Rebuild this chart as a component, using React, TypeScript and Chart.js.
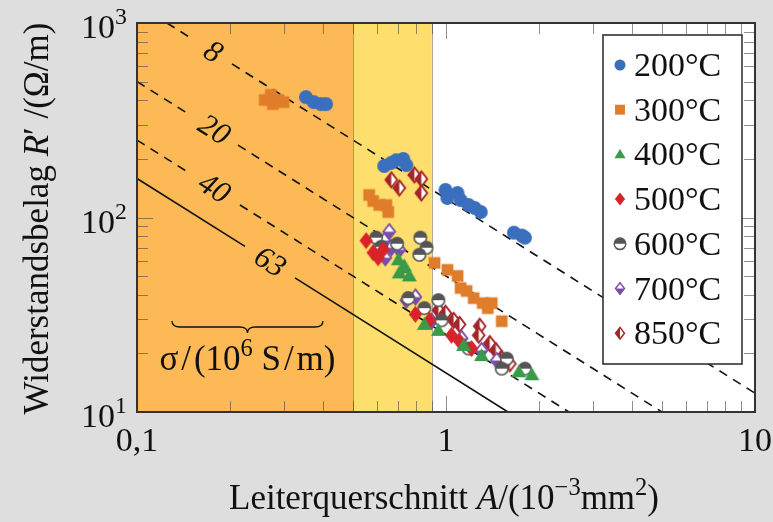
import React, { useEffect, useRef } from "react";
import { Chart, registerables } from "chart.js";

Chart.register(...registerables);

// ---------- data (A in 10^-3 mm^2, R' in Ohm/m) ----------
const A200 = [0.352, 0.373, 0.394, 0.409, 0.631, 0.665, 0.69, 0.727, 0.744, 0.996, 1.01, 1.089, 1.115, 1.183, 1.238, 1.295, 1.659, 1.761, 1.8];
const R200 = [416, 392, 383, 383, 184, 191, 197, 200, 186, 138.5, 126, 133.6, 123, 116, 112, 106.7, 83.6, 80.7, 78.8];

const A300 = [0.259, 0.271, 0.275, 0.287, 0.298, 0.564, 0.581, 0.608, 0.641, 0.65, 0.918, 1.011, 1.09, 1.115, 1.166, 1.229, 1.314, 1.365, 1.406, 1.515];
const R300 = [402, 427, 383, 402, 392, 130.5, 121.6, 116, 116, 106.7, 58.4, 53.8, 50.1, 43.4, 41.9, 38.5, 36.3, 34.2, 36.3, 29.3];

const A400 = [0.701, 0.728, 0.706, 0.761, 0.733, 0.851, 0.945, 1.14, 1.304, 1.721, 1.897];
const R400 = [60.6, 55.1, 51.9, 50.1, 56.4, 28.2, 26.3, 22.0, 19.5, 16.1, 15.55];

const A500 = [0.5515, 0.581, 0.603, 0.626, 0.796, 0.884, 1.042, 1.106, 1.21];
const R500 = [76.0, 65.9, 62.1, 68.3, 31.8, 29.6, 24.8, 23.1, 21.2];

const A600 = [0.594, 0.617, 0.695, 0.826, 0.865, 0.82, 0.755, 0.851, 0.945, 0.967, 1.184, 1.573, 1.515, 1.8];
const R600 = [78.8, 70.7, 73.3, 78.8, 69.9, 64.3, 38.5, 34.2, 37.6, 29.6, 21.2, 18.8, 16.7, 16.7];

const A700 = [0.655, 0.631, 0.603, 0.665, 0.706, 0.636, 0.744, 0.796, 0.897, 1.123, 1.304, 1.459];
const R700 = [84.6, 76.0, 69.9, 69.9, 68.3, 62.1, 37.6, 39.0, 29.3, 23.9, 20.7, 18.4];

const A850 = [0.665, 0.706, 0.79, 0.832, 0.832, 0.945, 0.996, 1.058, 1.106, 1.285, 1.276, 1.385, 1.449, 1.515, 1.609];
const R850 = [156, 141.8, 165.4, 157.8, 133.6, 33.4, 32.2, 29.6, 28.2, 27.6, 24.8, 22.5, 20.7, 18.8, 17.7];

const SERIES_LABELS = ["200°C", "300°C", "400°C", "500°C", "600°C", "700°C", "850°C"];

// conductivity lines sigma / (10^6 S/m): explicit segment endpoints (gap for label)
const SIGMA_LABELS = ["8", "20", "40", "63"];
const LINE8_A = [0.125, 0.1462, 0.17, 0.203, 10];
const LINE8_R = [1000, 855, null, 616, 12.5];
const LINE20_A = [0.1, 0.1462, 0.17, 0.2123, 5];
const LINE20_R = [500, 342, null, 235.5, 10];
const LINE40_A = [0.1, 0.1462, 0.17, 0.2154, 2.5];
const LINE40_R = [250, 171, null, 116, 10];
const LINE63_A = [0.1, 0.2236, 0.27, 0.3245, 1.587];
const LINE63_R = [158.7, 71.0, null, 48.9, 10];
const SIGMA_LABEL_A = [0.1762, 0.1776, 0.1776, 0.2694];
const SIGMA_LABEL_R = [709, 281.5, 140.8, 58.9];

// shaded regions on the A axis
const REGION_ORANGE = [0.1, 0.5];
const REGION_YELLOW = [0.5, 0.9];

const X_TICKS = [0.1, 1, 10];
const X_TICK_LABELS = ["0,1", "1", "10"];
const Y_TICKS = [10, 100, 1000];
const Y_TICK_EXP = ["1", "2", "3"];

// ---------- styling ----------
const FONT = '"Liberation Serif", "DejaVu Serif", serif';
const BLUE = "#3a6fbe";
const ORANGE = "#e07d2b";
const GREEN = "#3a9a48";
const RED = "#d8232b";
const GRAY = "#555555";
const PURPLE = "#7a4fa8";
const DARKRED = "#a3262a";

type Kind = "circle" | "square" | "triangle" | "diamond" | "halfcircle" | "diamondTop" | "diamondLeft";
const KINDS: Kind[] = ["circle", "square", "triangle", "diamond", "halfcircle", "diamondTop", "diamondLeft"];

function diamondPath(ctx: CanvasRenderingContext2D, x: number, y: number, w: number, h: number) {
  ctx.beginPath();
  ctx.moveTo(x, y - h);
  ctx.lineTo(x + w, y);
  ctx.lineTo(x, y + h);
  ctx.lineTo(x - w, y);
  ctx.closePath();
}

function drawMarker(ctx: CanvasRenderingContext2D, kind: Kind, x: number, y: number, s: number) {
  const r = s / 2;
  ctx.save();
  ctx.lineJoin = "miter";
  const lw = Math.max(1.4, s / 9);
  if (kind === "circle") {
    ctx.fillStyle = BLUE;
    ctx.beginPath();
    ctx.arc(x, y, r, 0, Math.PI * 2);
    ctx.fill();
  } else if (kind === "square") {
    ctx.fillStyle = ORANGE;
    const h = r * 0.9;
    ctx.fillRect(x - h, y - h, 2 * h, 2 * h);
  } else if (kind === "triangle") {
    ctx.fillStyle = GREEN;
    ctx.beginPath();
    ctx.moveTo(x, y - r * 1.0);
    ctx.lineTo(x + r * 1.0, y + r * 0.72);
    ctx.lineTo(x - r * 1.0, y + r * 0.72);
    ctx.closePath();
    ctx.fill();
  } else if (kind === "diamond") {
    ctx.fillStyle = RED;
    diamondPath(ctx, x, y, r * 0.78, r);
    ctx.fill();
  } else if (kind === "halfcircle") {
    const rr = r - lw / 2;
    ctx.fillStyle = "#ffffff";
    ctx.beginPath();
    ctx.arc(x, y, rr, 0, Math.PI * 2);
    ctx.fill();
    ctx.fillStyle = GRAY;
    ctx.beginPath();
    ctx.arc(x, y, rr, Math.PI, Math.PI * 2);
    ctx.closePath();
    ctx.fill();
    ctx.strokeStyle = GRAY;
    ctx.lineWidth = lw;
    ctx.beginPath();
    ctx.arc(x, y, rr, 0, Math.PI * 2);
    ctx.stroke();
  } else if (kind === "diamondTop") {
    const w = r * 0.8 - lw / 2, h = r - lw / 2;
    ctx.fillStyle = "#ffffff";
    diamondPath(ctx, x, y, w, h);
    ctx.fill();
    ctx.fillStyle = PURPLE;
    ctx.beginPath();
    ctx.moveTo(x - w, y);
    ctx.lineTo(x + w, y);
    ctx.lineTo(x, y + h);
    ctx.closePath();
    ctx.fill();
    ctx.strokeStyle = PURPLE;
    ctx.lineWidth = lw;
    diamondPath(ctx, x, y, w, h);
    ctx.stroke();
  } else if (kind === "diamondLeft") {
    const w = r * 0.8 - lw / 2, h = r - lw / 2;
    ctx.fillStyle = "#ffffff";
    diamondPath(ctx, x, y, w, h);
    ctx.fill();
    ctx.fillStyle = DARKRED;
    ctx.beginPath();
    ctx.moveTo(x, y - h);
    ctx.lineTo(x, y + h);
    ctx.lineTo(x - w, y);
    ctx.closePath();
    ctx.fill();
    ctx.strokeStyle = DARKRED;
    ctx.lineWidth = lw;
    diamondPath(ctx, x, y, w, h);
    ctx.stroke();
  }
  ctx.restore();
}

function makeMarker(kind: Kind, s: number): HTMLCanvasElement {
  const W = Math.ceil(s + 4);
  const c = document.createElement("canvas");
  c.width = W;
  c.height = W;
  const ctx = c.getContext("2d")!;
  drawMarker(ctx, kind, W / 2, W / 2, s);
  return c;
}

type Run = { t: string; italic?: boolean; sup?: boolean };

function runsWidth(ctx: CanvasRenderingContext2D, runs: Run[], size: number) {
  let w = 0;
  for (const r of runs) {
    const fs = r.sup ? size * 0.7 : size;
    ctx.font = `${r.italic ? "italic " : ""}${fs}px ${FONT}`;
    w += ctx.measureText(r.t).width;
  }
  return w;
}

function drawRuns(ctx: CanvasRenderingContext2D, runs: Run[], x: number, y: number, size: number, align: "left" | "center" | "right") {
  const w = runsWidth(ctx, runs, size);
  let cx = align === "left" ? x : align === "center" ? x - w / 2 : x - w;
  ctx.textAlign = "left";
  ctx.textBaseline = "alphabetic";
  for (const r of runs) {
    const fs = r.sup ? size * 0.7 : size;
    ctx.font = `${r.italic ? "italic " : ""}${fs}px ${FONT}`;
    ctx.fillText(r.t, cx, r.sup ? y - size * 0.4 : y);
    cx += ctx.measureText(r.t).width;
  }
}

const decorPlugin = {
  id: "decor",
  beforeDraw(chart: any) {
    const { ctx, chartArea: a, scales } = chart;
    const xs = scales.x;
    ctx.save();
    ctx.fillStyle = "#dedede";
    ctx.fillRect(0, 0, chart.width, chart.height);
    ctx.fillStyle = "#ffffff";
    ctx.fillRect(a.left, a.top, a.right - a.left, a.bottom - a.top);
    const o0 = xs.getPixelForValue(REGION_ORANGE[0]);
    const o1 = xs.getPixelForValue(REGION_ORANGE[1]);
    const y0 = xs.getPixelForValue(REGION_YELLOW[0]);
    const y1 = xs.getPixelForValue(REGION_YELLOW[1]);
    ctx.fillStyle = "#fdb955";
    ctx.fillRect(o0, a.top, o1 - o0, a.bottom - a.top);
    ctx.fillStyle = "#fede6c";
    ctx.fillRect(y0, a.top, y1 - y0, a.bottom - a.top);
    ctx.strokeStyle = "rgba(120,95,40,0.55)";
    ctx.lineWidth = 1;
    ctx.beginPath();
    ctx.moveTo(Math.round(o1) + 0.5, a.top);
    ctx.lineTo(Math.round(o1) + 0.5, a.bottom);
    ctx.moveTo(Math.round(y1) + 0.5, a.top);
    ctx.lineTo(Math.round(y1) + 0.5, a.bottom);
    ctx.stroke();
    ctx.restore();
  },
  afterDatasetsDraw(chart: any) {
    const { ctx, chartArea: a, scales } = chart;
    const xs = scales.x;
    const ys = scales.y;
    ctx.save();

    // sigma labels, rotated along the lines
    const ang = Math.atan2(ys.getPixelForValue(10) - ys.getPixelForValue(100), xs.getPixelForValue(1) - xs.getPixelForValue(0.1));
    ctx.fillStyle = "#111111";
    for (let i = 0; i < SIGMA_LABELS.length; i++) {
      const px = xs.getPixelForValue(SIGMA_LABEL_A[i]);
      const py = ys.getPixelForValue(SIGMA_LABEL_R[i]);
      ctx.save();
      ctx.translate(px, py);
      ctx.rotate(ang);
      ctx.font = `italic 31px ${FONT}`;
      ctx.textAlign = "center";
      ctx.textBaseline = "middle";
      ctx.fillText(SIGMA_LABELS[i], 0, 1);
      ctx.restore();
    }

    // brace and unit label
    const bx0 = 172, bx1 = 323, by = 321, bm = (bx0 + bx1) / 2;
    ctx.strokeStyle = "#111111";
    ctx.lineWidth = 1.3;
    ctx.beginPath();
    ctx.moveTo(bx0, by);
    ctx.quadraticCurveTo(bx0, by + 6, bx0 + 8, by + 6);
    ctx.lineTo(bm - 8, by + 6);
    ctx.quadraticCurveTo(bm, by + 6, bm, by + 12);
    ctx.quadraticCurveTo(bm, by + 6, bm + 8, by + 6);
    ctx.lineTo(bx1 - 8, by + 6);
    ctx.quadraticCurveTo(bx1, by + 6, bx1, by);
    ctx.stroke();
    drawRuns(ctx, [{ t: "σ\u200A/\u200A(10" }, { t: "6", sup: true }, { t: " S\u200A/\u200Am)" }], bm, 370, 35, "center");

    // ticks (inside, all four sides)
    ctx.strokeStyle = "rgba(70,70,70,0.6)";
    ctx.lineWidth = 1;
    const xMinor: number[] = [];
    const yMinor: number[] = [];
    for (const d of [0.1, 1]) for (let k = 2; k <= 9; k++) xMinor.push(d * k);
    for (const d of [10, 100]) for (let k = 2; k <= 9; k++) yMinor.push(d * k);
    ctx.beginPath();
    const tickX = (v: number, len: number) => {
      const px = Math.round(xs.getPixelForValue(v)) + 0.5;
      ctx.moveTo(px, a.bottom);
      ctx.lineTo(px, a.bottom - len);
      ctx.moveTo(px, a.top);
      ctx.lineTo(px, a.top + len);
    };
    const tickY = (v: number, len: number) => {
      const py = Math.round(ys.getPixelForValue(v)) + 0.5;
      ctx.moveTo(a.left, py);
      ctx.lineTo(a.left + len, py);
      ctx.moveTo(a.right, py);
      ctx.lineTo(a.right - len, py);
    };
    xMinor.forEach((v) => tickX(v, 11));
    X_TICKS.forEach((v) => tickX(v, 16));
    yMinor.forEach((v) => tickY(v, 11));
    Y_TICKS.forEach((v) => tickY(v, 16));
    ctx.stroke();

    // border
    ctx.strokeStyle = "#333333";
    ctx.lineWidth = 2;
    ctx.strokeRect(a.left, a.top, a.right - a.left, a.bottom - a.top);

    // tick labels
    ctx.fillStyle = "#111111";
    X_TICKS.forEach((v, i) => {
      drawRuns(ctx, [{ t: X_TICK_LABELS[i] }], xs.getPixelForValue(v), a.bottom + 39, 34, "center");
    });
    Y_TICKS.forEach((v, i) => {
      drawRuns(ctx, [{ t: "10" }, { t: Y_TICK_EXP[i], sup: true }], 127, ys.getPixelForValue(v) + 15, 34, "right");
    });

    // axis titles
    drawRuns(
      ctx,
      [{ t: "Leiterquerschnitt " }, { t: "A", italic: true }, { t: "/(10" }, { t: "−3", sup: true }, { t: "mm" }, { t: "2", sup: true }, { t: ")" }],
      (a.left + a.right) / 2 - 2,
      509,
      35,
      "center"
    );
    ctx.save();
    ctx.translate(48, (a.top + a.bottom) / 2 + 1);
    ctx.rotate(-Math.PI / 2);
    drawRuns(ctx, [{ t: "Widerstandsbelag " }, { t: "R", italic: true }, { t: "′ /(Ω/m)" }], 0, 0, 35, "center");
    ctx.restore();

    // legend
    const lx0 = 603, ly0 = 35, lx1 = 742, ly1 = 364;
    ctx.fillStyle = "#ffffff";
    ctx.fillRect(lx0, ly0, lx1 - lx0, ly1 - ly0);
    ctx.strokeStyle = "#333333";
    ctx.lineWidth = 1.6;
    ctx.strokeRect(lx0, ly0, lx1 - lx0, ly1 - ly0);
    ctx.fillStyle = "#111111";
    SERIES_LABELS.forEach((lab, i) => {
      const cy = 65 + i * 44.7;
      drawMarker(ctx, KINDS[i], 620, cy, i >= 3 ? 13 : 11);
      ctx.fillStyle = "#111111";
      drawRuns(ctx, [{ t: lab }], 634, cy + 11, 34, "left");
    });

    ctx.restore();
  },
};

function pts(A: number[], R: (number | null)[]) {
  return A.map((x, i) => ({ x, y: R[i] }));
}

export default function App() {
  const ref = useRef<HTMLCanvasElement | null>(null);
  useEffect(() => {
    if (!ref.current) return;
    const sizes = [14, 13, 15, 17, 14, 17, 17];
    const markers = KINDS.map((k, i) => makeMarker(k, sizes[i]));
    const seriesA = [A200, A300, A400, A500, A600, A700, A850];
    const seriesR = [R200, R300, R400, R500, R600, R700, R850];
    const scatterSets = SERIES_LABELS.map((lab, i) => ({
      type: "scatter" as const,
      label: lab,
      data: pts(seriesA[i], seriesR[i]),
      pointStyle: markers[i],
      pointRadius: 7,
      order: 1,
    }));
    const lineA = [LINE8_A, LINE20_A, LINE40_A, LINE63_A];
    const lineR = [LINE8_R, LINE20_R, LINE40_R, LINE63_R];
    const lineSets = SIGMA_LABELS.map((lab, i) => ({
      type: "line" as const,
      label: "σ = " + lab,
      data: pts(lineA[i], lineR[i]),
      borderColor: "#111111",
      borderWidth: 1.6,
      borderDash: i === 3 ? [] : [9, 7],
      pointRadius: 0,
      spanGaps: false,
      fill: false,
      order: 5,
    }));
    const chart = new Chart(ref.current, {
      type: "scatter",
      data: { datasets: [...scatterSets, ...lineSets] as any },
      options: {
        animation: false,
        responsive: false,
        events: [],
        layout: { padding: { left: 137, top: 23, right: 18, bottom: 110 } },
        plugins: { legend: { display: false }, tooltip: { enabled: false } },
        scales: {
          x: { type: "logarithmic", min: 0.1, max: 10, display: false },
          y: { type: "logarithmic", min: 10, max: 1000, display: false },
        },
      },
      plugins: [decorPlugin],
    });
    return () => chart.destroy();
  }, []);
  return (
    <div style={{ position: "fixed", left: 0, top: 0, width: 773, height: 522, background: "#dedede" }}>
      <canvas ref={ref} width={773} height={522} style={{ width: 773, height: 522, display: "block" }} />
    </div>
  );
}
